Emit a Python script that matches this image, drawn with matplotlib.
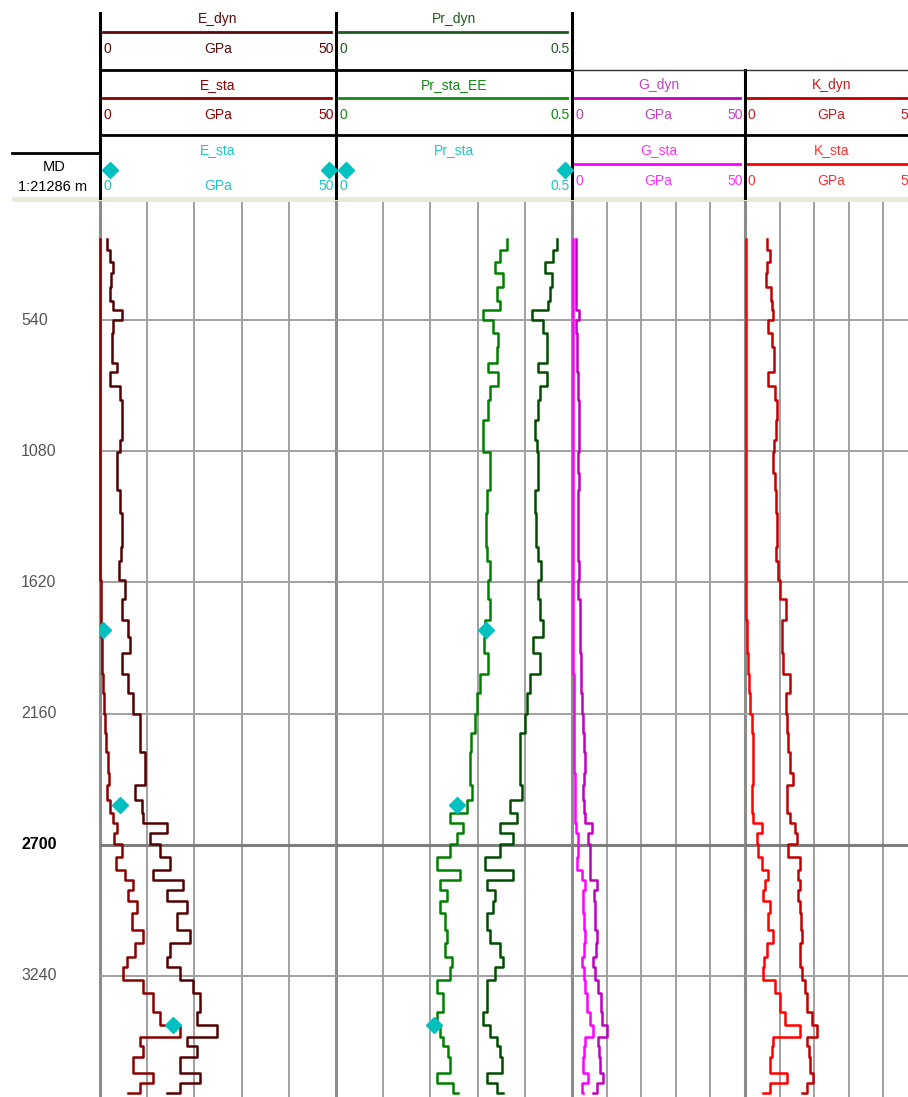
import matplotlib.pyplot as plt

# depths (m) at which the curves were read
depth = [205, 250, 300, 345, 405, 460, 500, 540, 595, 650,
         715, 755, 810, 870, 950, 1035, 1085, 1170, 1240, 1335,
         1475, 1530, 1610, 1690, 1775, 1845, 1910, 1995, 2075, 2160,
         2240, 2320, 2405, 2455, 2515, 2570, 2610, 2650, 2695, 2750,
         2805, 2845, 2885, 2930, 2980, 3050, 3105, 3160, 3205, 3255,
         3310, 3390, 3440, 3490, 3530, 3575, 3640, 3680, 3720]

e_sta = [0.1] * 22 + [0.17, 0.2, 0.3, 0.4, 0.5, 0.6, 0.85, 1.05,
         1.3, 1.7, 1.9, 1.5, 2.1, 2.75, 3.6, 3.0, 4.7, 3.4,
         5.3, 7.0, 5.9, 7.8, 6.8, 9.1, 7.4, 5.7, 4.9, 9.1,
         11.2, 12.7, 17.0, 8.5, 9.1, 7.0, 11.2, 8.5, 5.9]
e_dyn = [1.5, 2.1, 2.75, 2.3, 2.1, 2.75, 4.7, 2.75, 2.5, 2.5,
         3.6, 2.1, 4.2, 4.7, 4.7, 4.2, 3.6, 3.6, 4.2, 4.7,
         4.45, 4.0, 5.3, 4.7, 5.9, 6.4, 4.7, 5.9, 7.0, 8.5,
         8.5, 9.5, 9.5, 7.4, 8.9, 9.1, 14.2, 10.6, 12.7, 14.8,
         11.2, 17.6, 14.2, 18.4, 16.3, 19.1, 14.8, 14.2, 17.0, 19.7,
         21.2, 20.6, 24.8, 18.4, 20.6, 17.0, 21.2, 17.0, 14.2]
pr_sta_ee = [0.362, 0.347, 0.337, 0.354, 0.341, 0.347, 0.311, 0.333, 0.343, 0.341,
             0.322, 0.343, 0.326, 0.322, 0.311, 0.311, 0.326, 0.326, 0.320, 0.318,
             0.320, 0.326, 0.322, 0.326, 0.316, 0.314, 0.322, 0.305, 0.299, 0.294,
             0.286, 0.284, 0.284, 0.288, 0.278, 0.242, 0.269, 0.256, 0.242, 0.214,
             0.263, 0.220, 0.235, 0.220, 0.231, 0.235, 0.231, 0.246, 0.242, 0.214,
             0.227, 0.214, 0.220, 0.227, 0.237, 0.242, 0.214, 0.248, 0.258]
pr_dyn = [0.468, 0.460, 0.443, 0.458, 0.453, 0.449, 0.415, 0.439, 0.447, 0.447,
          0.428, 0.447, 0.432, 0.428, 0.422, 0.426, 0.428, 0.428, 0.422, 0.424,
          0.428, 0.434, 0.428, 0.432, 0.439, 0.417, 0.432, 0.411, 0.405, 0.400,
          0.390, 0.390, 0.390, 0.394, 0.369, 0.383, 0.347, 0.375, 0.347, 0.316,
          0.375, 0.320, 0.337, 0.333, 0.320, 0.326, 0.347, 0.354, 0.337, 0.320,
          0.320, 0.311, 0.326, 0.341, 0.347, 0.352, 0.320, 0.341, 0.354]
g_sta = [0.43] * 27 + [0.58, 0.58, 0.58,
         0.72, 0.72, 0.87, 0.87, 0.87, 0.87, 1.16, 1.73, 1.73, 1.45,
         2.89, 3.76, 3.18, 3.18, 3.47, 3.76, 3.47, 2.89, 3.47, 3.76,
         4.34, 5.2, 6.07, 3.76, 3.47, 3.18, 4.62, 2.89, 3.18]
g_dyn = [1.16, 1.3, 1.16, 1.3, 1.16, 1.3, 2.02, 1.16, 1.45, 1.45,
         1.45, 1.73, 1.73, 2.02, 2.02, 2.02, 1.73, 2.02, 1.73, 1.73,
         1.73, 1.88, 1.73, 2.31, 2.31, 2.31, 2.6, 2.6, 2.89, 3.18,
         3.47, 3.76, 3.47, 3.18, 3.47, 3.76, 5.78, 4.62, 5.2, 5.2,
         5.2, 7.23, 6.36, 6.65, 6.65, 7.23, 6.94, 6.07, 6.65, 7.51,
         8.38, 8.67, 10.1, 7.51, 7.8, 8.09, 8.96, 7.23, 6.07]
k_sta = [0.23] * 22 + [0.29, 0.43, 0.58, 0.58, 0.87, 1.16, 1.45, 2.02,
         2.17, 2.31, 2.31, 2.02, 2.02, 2.31, 4.91, 3.47, 3.76, 4.91,
         6.65, 5.78, 5.2, 7.23, 6.65, 8.09, 6.36, 5.49, 5.2, 8.67,
         10.1, 11.6, 15.9, 8.09, 7.8, 7.23, 12.1, 7.23, 5.2]
k_dyn = [6.36, 7.23, 6.36, 6.07, 7.51, 7.8, 8.09, 6.65, 7.8, 8.38,
         8.38, 6.65, 8.67, 9.25, 8.96, 8.38, 8.09, 8.67, 8.96, 9.25,
         8.96, 9.54, 10.1, 11.85, 10.7, 10.7, 11.0, 13.0, 11.85, 12.1,
         12.4, 13.0, 13.9, 12.1, 12.1, 13.0, 14.45, 15.0, 12.4, 15.9,
         15.3, 15.9, 15.3, 15.9, 16.2, 16.5, 15.9, 15.9, 16.5, 17.3,
         17.9, 19.4, 20.8, 17.9, 18.5, 18.8, 19.65, 17.9, 16.5]

# core (static) measurements
core_depth = [1815, 2535, 3440]
e_core = [0.6, 4.2, 15.5]
pr_core = [0.318, 0.256, 0.208]

depth_ticks = [540, 1080, 1620, 2160, 2700, 3240]

CYAN = '#00c0c0'
W, H = 908, 1097
TRACK_TOP = 202
PX_PER_M = 0.24296
D_TOP = 540 - (320 - TRACK_TOP) / PX_PER_M
D_BOT = 540 + (H - 320) / PX_PER_M
FS = 10

plt.rcParams['font.family'] = ['Liberation Sans', 'DejaVu Sans']
fig = plt.figure(figsize=(W / 100, H / 100), dpi=100)


def px_axes(x0, y0, x1, y1):
    return fig.add_axes([x0 / W, 1 - y1 / H, (x1 - x0) / W, (y1 - y0) / H])


# header drawn in pixel coordinates
hdr = fig.add_axes([0, 0, 1, 1])
hdr.set_xlim(0, W)
hdr.set_ylim(H, 0)
hdr.axis('off')

hdr.fill_between([12, W], 197, 202, color='#ece9d8', lw=0)
for x, y0 in [(100, 13), (336, 13), (572, 13), (745, 70)]:
    hdr.plot([x, x], [y0, 198], color='black', lw=2.2)
hdr.plot([100, 572], [70, 70], color='black', lw=2)
hdr.plot([572, W], [70, 70], color='#303030', lw=1)
hdr.plot([100, W], [135, 135], color='black', lw=2)
hdr.plot([12, 100], [153, 153], color='black', lw=2)
hdr.text(54, 167, 'MD', ha='center', va='center', fontsize=10.5)
hdr.text(53, 187, '1:21286 m', ha='center', va='center', fontsize=10.5)


def curve_header(x0, x1, rows, name, color, lo, hi, unit, tcolor=None, marker=False):
    yt, yl, yv = rows
    tc = tcolor or color
    cx = (x0 + x1) / 2
    hdr.text(cx, yt, name, color=tc, ha='center', va='center', fontsize=FS)
    if marker:
        hdr.plot([x0 + 10, x1 - 7], [yl, yl], ls='none', marker='D', ms=8, color=CYAN)
    else:
        hdr.plot([x0 + 3, x1 - 5], [yl, yl], color=color, lw=2)
    hdr.text(x0 + 3, yv, lo, color=tc, ha='left', va='center', fontsize=FS)
    hdr.text(cx, yv, unit, color=tc, ha='center', va='center', fontsize=FS)
    hdr.text(x1 - 2, yv, hi, color=tc, ha='right', va='center', fontsize=FS)


R1 = (19, 32, 49)
R2 = (85, 98, 115)
R3 = (150, 164, 181)
R3M = (150, 170, 186)
curve_header(100, 336, R1, 'E_dyn', '#5a0a0a', '0', '50', 'GPa')
curve_header(100, 336, R2, 'E_sta', '#8b0000', '0', '50', 'GPa')
curve_header(100, 336, R3M, 'E_sta', CYAN, '0', '50', 'GPa', tcolor='#20c4c4', marker=True)
curve_header(336, 572, R1, 'Pr_dyn', '#1e5a1e', '0', '0.5', '')
curve_header(336, 572, R2, 'Pr_sta_EE', '#108a10', '0', '0.5', '')
curve_header(336, 572, R3M, 'Pr_sta', CYAN, '0', '0.5', '', tcolor='#20c4c4', marker=True)
curve_header(572, 745, R2, 'G_dyn', '#c000c0', '0', '50', 'GPa', tcolor='#c040c0')
curve_header(572, 745, R3, 'G_sta', '#ff00ff', '0', '50', 'GPa', tcolor='#ff30ff')
curve_header(745, 918, R2, 'K_dyn', '#c00000', '0', '50', 'GPa', tcolor='#c02020')
curve_header(745, 918, R3, 'K_sta', '#ff0000', '0', '50', 'GPa', tcolor='#ff3030')

# depth column
axd = px_axes(0, TRACK_TOP, 100, H)
axd.set_xlim(0, 100)
axd.set_ylim(D_BOT, D_TOP)
axd.axis('off')
for d in depth_ticks:
    bold = d == 2700
    axd.text(21, d, str(d), ha='left', va='center', fontsize=11.5,
             color='black' if bold else '#555555',
             fontweight='bold' if bold else 'normal')


def track(x0, x1, xmax):
    ax = px_axes(x0, TRACK_TOP, x1, H)
    ax.set_xlim(0, xmax)
    ax.set_ylim(D_BOT, D_TOP)
    ax.axis('off')
    for i in range(1, 5):
        ax.axvline(xmax * i / 5, color='#a0a0a0', lw=1.4)
    ax.axvline(0, color='#8c8c8c', lw=2.2, clip_on=False)
    for d in depth_ticks:
        if d == 2700:
            ax.axhline(d, color='#7d7d7d', lw=2.2)
        else:
            ax.axhline(d, color='#a0a0a0', lw=1.4)
    return ax


kw = dict(lw=1.8, clip_on=False, drawstyle='steps-pre')

ax_e = track(100, 336, 50)
ax_e.plot(e_sta, depth, color='#8b0000', **kw)
ax_e.plot(e_dyn, depth, color='#520000', **kw)
ax_e.plot(e_core, core_depth, ls='none', marker='D', ms=8, color=CYAN, zorder=5)

ax_p = track(336, 572, 0.5)
ax_p.plot(pr_sta_ee, depth, color='#008000', **kw)
ax_p.plot(pr_dyn, depth, color='#004d00', **kw)
ax_p.plot(pr_core, core_depth, ls='none', marker='D', ms=8, color=CYAN, zorder=5)

ax_g = track(572, 745, 50)
ax_g.plot(g_sta, depth, color='#ff00ff', **kw)
ax_g.plot(g_dyn, depth, color='#c000c0', **kw)

ax_k = track(745, 918, 50)
ax_k.plot(k_sta, depth, color='#ff0000', **kw)
ax_k.plot(k_dyn, depth, color='#c00000', **kw)

fig.savefig('out.png', dpi=100)
